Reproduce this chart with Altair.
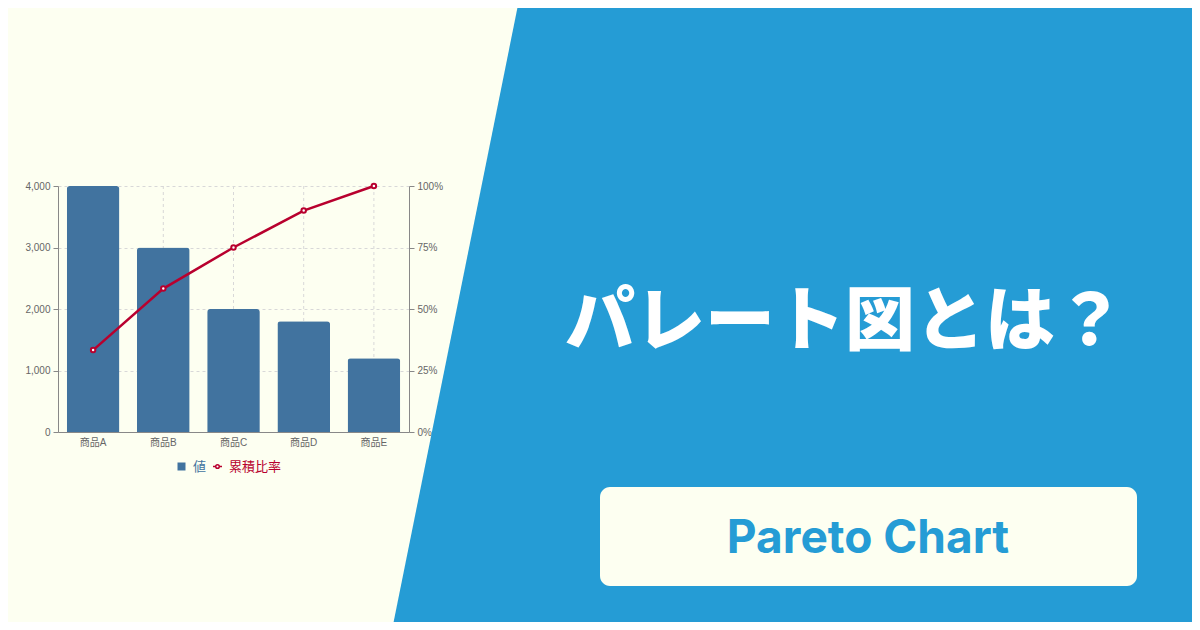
import math
import altair as alt
import pandas as pd

# ---- data ----
categories = ["商品A", "商品B", "商品C", "商品D", "商品E"]
values = [4000, 3000, 2000, 1800, 1200]
cum_ratio = [0.333, 0.583, 0.75, 0.90, 1.0]
left_ticks = [0, 1000, 2000, 3000, 4000]
right_ticks = [0, 0.25, 0.5, 0.75, 1.0]

CREAM = "#fdfff1"
BLUE_BG = "#259cd5"
BAR = "#41739f"
RED = "#b8002e"
AXIS_GREY = "#888888"
LABEL_GREY = "#666666"
GRID = "#d8d8d8"
FONT = "Liberation Sans, Noto Sans CJK JP, sans-serif"
JP = "Noto Sans CJK JP"

W, H = 1184, 614          # whole canvas (page minus 8px margin)
PLOT_X = [50, 401]        # plot area in canvas px
PLOT_Y = [424, 178]

df = pd.DataFrame({
    "商品": categories,
    "値": values,
    "累積比率": cum_ratio,
    "s_bar": ["値"] * len(categories),
    "s_line": ["累積比率"] * len(categories),
})

one = alt.Data(values=[{"k": 1}])

x_scale = alt.Scale(range=PLOT_X, paddingInner=0.25, paddingOuter=0.125)

x_enc = alt.X(
    "商品:N", sort=categories, scale=x_scale,
    axis=alt.Axis(title=None, labelAngle=0, offset=-(H - PLOT_Y[0]), ticks=False,
                  grid=False, domainColor=AXIS_GREY,
                  labelColor=LABEL_GREY, labelFontSize=10, labelFont=FONT, labelPadding=5),
)

y_left = alt.Y(
    "値:Q",
    scale=alt.Scale(domain=[0, 4000], range=PLOT_Y, nice=False),
    axis=alt.Axis(title=None, orient="left", offset=-PLOT_X[0], values=left_ticks,
                  labelExpr="format(datum.value, ',.0f')",
                  grid=True, gridDash=[3, 3], gridColor=GRID, domainColor=AXIS_GREY,
                  tickColor=AXIS_GREY, tickSize=5, labelColor=LABEL_GREY, labelFontSize=10,
                  labelFont=FONT, labelPadding=3),
)

y_right = alt.Y(
    "累積比率:Q",
    scale=alt.Scale(domain=[0, 1], range=PLOT_Y, nice=False),
    axis=alt.Axis(title=None, orient="right", offset=-(W - PLOT_X[1]), values=right_ticks,
                  labelExpr="format(datum.value, '.0%')", grid=False,
                  domainColor=AXIS_GREY, tickColor=AXIS_GREY,
                  tickSize=5, labelColor=LABEL_GREY, labelFontSize=10, labelFont=FONT,
                  labelPadding=3),
)

# vertical dashed grid lines at each category, spanning the plot height
vgrid = alt.Chart(df).mark_rule(color=GRID, strokeDash=[3, 3], strokeWidth=1).encode(
    x=x_enc,
    y=alt.value(PLOT_Y[1]), y2=alt.value(PLOT_Y[0]),
)

bars = alt.Chart(df).mark_bar(cornerRadiusTopLeft=3, cornerRadiusTopRight=3).encode(
    x=x_enc,
    y=y_left,
    fill=alt.Fill("s_bar:N", title=None,
                  scale=alt.Scale(domain=["値"], range=[BAR]),
                  legend=alt.Legend(orient="none", legendX=167, legendY=452, title=None,
                                    symbolType="square", symbolSize=64, symbolStrokeWidth=0,
                                    labelColor=BAR, labelFontSize=13, labelFont=JP,
                                    labelOffset=5, padding=0)),
)

line_symbol = ("M-1,0H-0.4M0.4,0H1"
               "M0.4,0A0.4,0.4 0 1,1 -0.4,0A0.4,0.4 0 1,1 0.4,0Z")

line = alt.Chart(df).mark_line(
    strokeWidth=2.5,
    point=alt.OverlayMarkDef(filled=True, fill="white", size=20, strokeWidth=2,
                             stroke=RED, opacity=1),
).encode(
    x=x_enc, y=y_right,
    stroke=alt.Stroke(
        "s_line:N", title=None,
        scale=alt.Scale(domain=["累積比率"], range=[RED]),
        legend=alt.Legend(orient="none", legendX=203, legendY=452, title=None,
                          symbolType=line_symbol, symbolSize=81, symbolStrokeWidth=1.5,
                          symbolFillColor="white", labelColor=RED, labelFontSize=13,
                          labelFont=JP, labelOffset=5, padding=0),
    ),
)

# ---- background diagonal blue panel (thick rule, clipped by the canvas) ----
p1 = (519 - 8, 0 - 8)
p2 = (392 - 8, 630 - 8)
dx, dy = p2[0] - p1[0], p2[1] - p1[1]
L = math.hypot(dx, dy)
ux, uy = dx / L, dy / L
nx, ny = -uy, ux
if nx < 0:
    nx, ny = -nx, -ny
half = 1000
ax_, ay_ = p1[0] + half * nx - half * ux, p1[1] + half * ny - half * uy
bx_, by_ = p2[0] + half * nx + half * ux, p2[1] + half * ny + half * uy

panel = alt.Chart(one).mark_rule(color=BLUE_BG, strokeWidth=2 * half, strokeCap="butt").encode(
    x=alt.value(ax_), y=alt.value(ay_), x2=alt.value(bx_), y2=alt.value(by_)
)

title = alt.Chart(one).mark_text(
    text="パレート図とは？", font=JP, fontSize=70, fontWeight=900, color="white",
    align="center", baseline="middle",
).encode(x=alt.value(837), y=alt.value(316))

box = alt.Chart(one).mark_rect(color=CREAM, cornerRadius=10).encode(
    x=alt.value(592), x2=alt.value(1129), y=alt.value(479), y2=alt.value(578)
)

sub = alt.Chart(one).mark_text(
    text="Pareto Chart", font="Inter", fontSize=46, fontWeight="bold", color=BLUE_BG,
    align="center", baseline="alphabetic",
).encode(x=alt.value(860), y=alt.value(545))

chart = alt.layer(panel, vgrid, bars, line, title, box, sub).resolve_scale(
    y="independent"
).properties(
    width=W, height=H, autosize=alt.AutoSizeParams(type="none"), padding=0,
    background=CREAM,
).configure_view(strokeWidth=0)

chart.save("out.html", embed_options={"renderer": "svg", "actions": False})
